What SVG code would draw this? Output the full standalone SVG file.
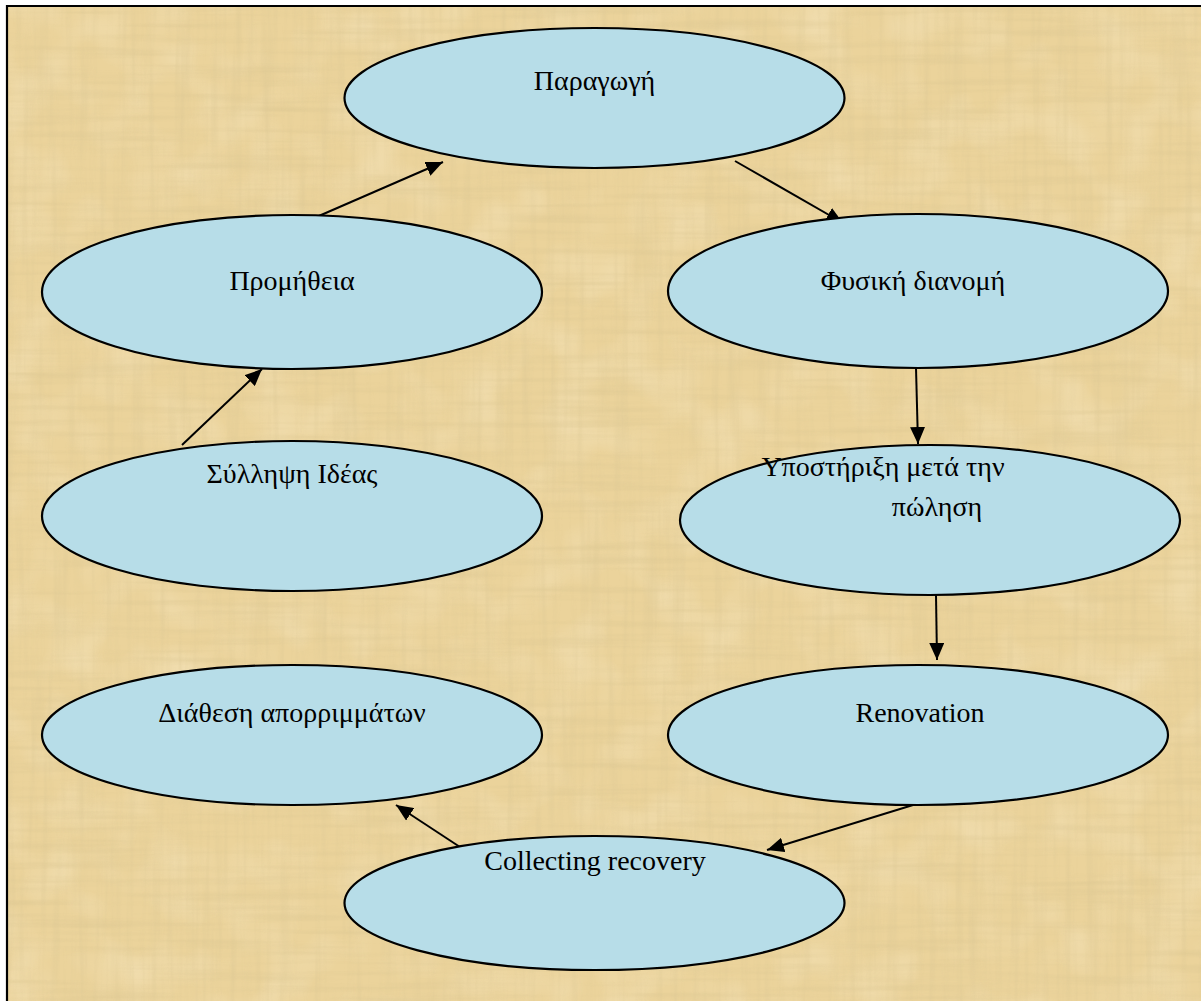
<svg xmlns="http://www.w3.org/2000/svg" width="1201" height="1001" viewBox="0 0 1201 1001">
  <defs>
    <style>
      .node ellipse { fill: #b7dde8; stroke: #000; stroke-width: 2.2; }
      .node text { font-family: "Liberation Serif", "Times New Roman", serif; font-size: 28px; fill: #000; text-anchor: middle; }
      .edge { stroke: #000; stroke-width: 2; fill: none; marker-end: url(#arrow); }
    </style>
    <marker id="arrow" viewBox="0 0 17 15" refX="17" refY="7.5" markerWidth="17" markerHeight="15" markerUnits="userSpaceOnUse" orient="auto">
      <path d="M0,0 L17,7.5 L0,15 Z" fill="#000"/>
    </marker>
    <!-- parchment fibres: horizontal and vertical streak noise -->
    <filter id="fibresH" x="0" y="0" width="100%" height="100%">
      <feTurbulence type="fractalNoise" baseFrequency="0.006 0.14" numOctaves="3" seed="4"/>
      <feColorMatrix type="matrix" values="0 0 0 0 0.70  0 0 0 0 0.56  0 0 0 0 0.28  1.8 0 0 0 -0.8"/>
    </filter>
    <filter id="fibresV" x="0" y="0" width="100%" height="100%">
      <feTurbulence type="fractalNoise" baseFrequency="0.14 0.006" numOctaves="3" seed="11"/>
      <feColorMatrix type="matrix" values="0 0 0 0 0.72  0 0 0 0 0.58  0 0 0 0 0.30  1.8 0 0 0 -0.8"/>
    </filter>
    <filter id="light" x="0" y="0" width="100%" height="100%">
      <feTurbulence type="fractalNoise" baseFrequency="0.02 0.02" numOctaves="2" seed="7"/>
      <feColorMatrix type="matrix" values="0 0 0 0 1  0 0 0 0 0.94  0 0 0 0 0.78  1.4 0 0 0 -0.6"/>
    </filter>
  </defs>

  <!-- page background and frame -->
  <rect x="0" y="0" width="1201" height="1001" fill="#ffffff"/>
  <rect x="8" y="7" width="1193" height="994" fill="#ebd39b"/>
  <rect x="8" y="7" width="1193" height="994" filter="url(#light)" opacity="0.4"/>
  <rect x="8" y="7" width="1193" height="994" filter="url(#fibresH)" opacity="0.5"/>
  <rect x="8" y="7" width="1193" height="994" filter="url(#fibresV)" opacity="0.5"/>
  <path d="M7,1001 L7,6 L1201,6" stroke="#000" stroke-width="2.2" fill="none"/>

  <g id="connectors">
    <line class="edge" x1="305" y1="222" x2="443" y2="162"/>
    <line class="edge" x1="735" y1="161" x2="843" y2="223"/>
    <line class="edge" x1="916" y1="368" x2="918" y2="444"/>
    <line class="edge" x1="936" y1="595" x2="937" y2="660"/>
    <line class="edge" x1="913" y1="805" x2="767" y2="850"/>
    <line class="edge" x1="463" y1="849" x2="396" y2="805"/>
    <line class="edge" x1="182" y1="445" x2="262" y2="369"/>
  </g>

  <g id="node-paragogi" class="node">
    <ellipse cx="594.5" cy="98" rx="250" ry="70"/>
    <text x="594.5" y="90">Παραγωγή</text>
  </g>
  <g id="node-promitheia" class="node">
    <ellipse cx="292" cy="292" rx="250" ry="77"/>
    <text x="292" y="290">Προμήθεια</text>
  </g>
  <g id="node-fysiki-dianomi" class="node">
    <ellipse cx="918" cy="291" rx="250" ry="77"/>
    <text x="913" y="290">Φυσική διανομή</text>
  </g>
  <g id="node-syllipsi-ideas" class="node">
    <ellipse cx="292" cy="516" rx="250" ry="75"/>
    <text x="292" y="483">Σύλληψη Ιδέας</text>
  </g>
  <g id="node-ypostirixi" class="node">
    <ellipse cx="930" cy="520" rx="250" ry="75"/>
    <text x="883" y="476">Υποστήριξη μετά την</text>
    <text x="937" y="516">πώληση</text>
  </g>
  <g id="node-diathesi" class="node">
    <ellipse cx="292" cy="735" rx="250" ry="70"/>
    <text x="292" y="722">Διάθεση απορριμμάτων</text>
  </g>
  <g id="node-renovation" class="node">
    <ellipse cx="918" cy="735" rx="250" ry="70"/>
    <text x="920" y="722">Renovation</text>
  </g>
  <g id="node-collecting" class="node">
    <ellipse cx="594.5" cy="903" rx="250" ry="67"/>
    <text x="595" y="870">Collecting recovery</text>
  </g>
</svg>
